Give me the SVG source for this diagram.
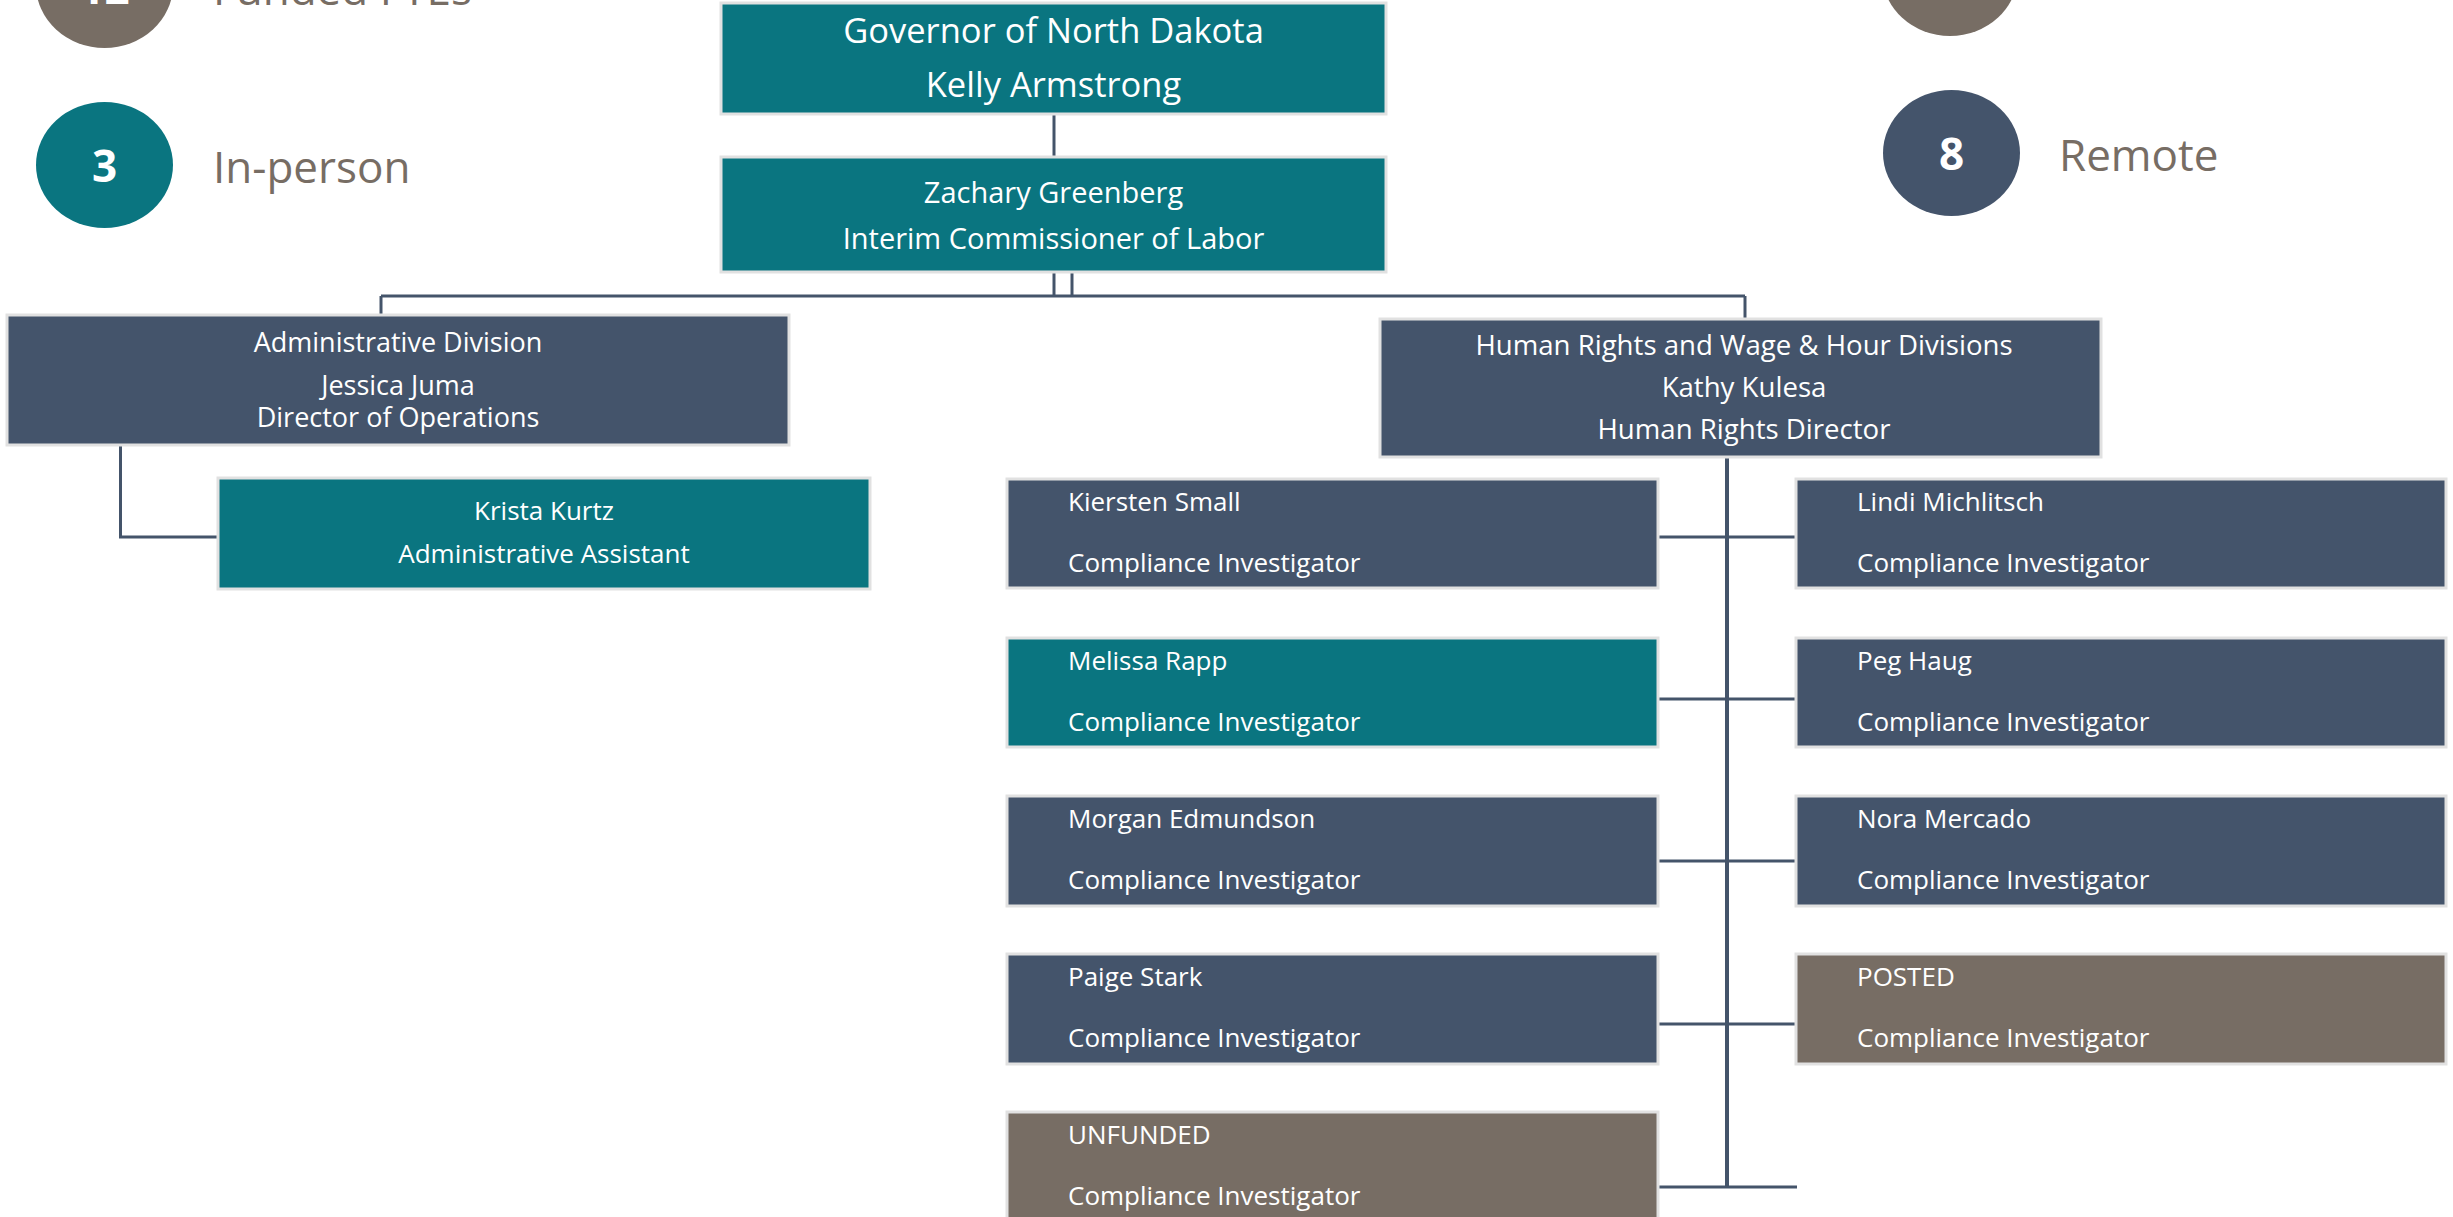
<svg xmlns="http://www.w3.org/2000/svg" width="2453" height="1217" viewBox="0 0 2453 1217">
<style>
text{font-family:"Open Sans","Noto Sans","Liberation Sans",sans-serif;fill:#ffffff}
.teal{fill:#0a7580;stroke:#e1e1e1;stroke-width:3}
.navy{fill:#44546b;stroke:#e1e1e1;stroke-width:3}
.brown{fill:#776d64;stroke:#e1e1e1;stroke-width:3}
.c{text-anchor:middle}
.f34{font-size:34.5px}.f29{font-size:29px}.f27{font-size:27px}.f275{font-size:27.6px}.f26{font-size:26px}
.leg{font-size:44px;fill:#776d64}
.num{font-size:44px;font-weight:bold;text-anchor:middle}
.conn line,.conn path{stroke:#44546a;stroke-width:3;fill:none}
</style>
<rect width="2453" height="1217" fill="#ffffff"/>

<g id="legend">
  <ellipse cx="104.5" cy="-15" rx="68.5" ry="63" fill="#776d64"/>
  <text class="num" x="104.5" y="4">12</text>
  <text class="leg" x="213" y="5">Funded FTEs</text>
  <ellipse cx="104.5" cy="165" rx="68.5" ry="63" fill="#0a7580"/>
  <text class="num" x="104.5" y="182">3</text>
  <text class="leg" x="213" y="183">In-person</text>
  <ellipse cx="1950" cy="-27" rx="68" ry="63" fill="#776d64"/>
  <ellipse cx="1951.5" cy="153" rx="68.5" ry="63" fill="#44546b"/>
  <text class="num" x="1951.5" y="170">8</text>
  <text class="leg" x="2059" y="171">Remote</text>
</g>

<g class="conn" id="connectors">
  <line x1="1054" y1="114" x2="1054" y2="157"/>
  <line x1="1054" y1="272" x2="1054" y2="296"/>
  <line x1="1072" y1="272" x2="1072" y2="296"/>
  <line x1="381" y1="296" x2="1745" y2="296"/>
  <line x1="381" y1="296" x2="381" y2="315"/>
  <line x1="1745" y1="296" x2="1745" y2="319"/>
  <path d="M120.5 445 V537 H218"/>
  <line x1="1727" y1="457" x2="1727" y2="1188" style="stroke-width:4"/>
  <line x1="1658" y1="537" x2="1796" y2="537"/>
  <line x1="1658" y1="699" x2="1796" y2="699"/>
  <line x1="1658" y1="861" x2="1796" y2="861"/>
  <line x1="1658" y1="1024" x2="1796" y2="1024"/>
  <line x1="1658" y1="1187" x2="1797" y2="1187"/>
</g>

<g id="governor">
  <rect class="teal" x="721" y="3" width="665" height="111"/>
  <text class="c f34" x="1053.5" y="43">Governor of North Dakota</text>
  <text class="c f34" x="1053.5" y="97">Kelly Armstrong</text>
</g>
<g id="commissioner">
  <rect class="teal" x="721" y="157" width="665" height="115"/>
  <text class="c f29" x="1053.5" y="203">Zachary Greenberg</text>
  <text class="c f29" x="1053.5" y="249">Interim Commissioner of Labor</text>
</g>
<g id="admin">
  <rect class="navy" x="7" y="315" width="782" height="130"/>
  <text class="c f27" x="398" y="352">Administrative Division</text>
  <text class="c f27" x="398" y="395">Jessica Juma</text>
  <text class="c f27" x="398" y="427">Director of Operations</text>
</g>
<g id="krista">
  <rect class="teal" x="218" y="478" width="652" height="111"/>
  <text class="c f26" x="544" y="520">Krista Kurtz</text>
  <text class="c f26" x="544" y="563">Administrative Assistant</text>
</g>
<g id="hr">
  <rect class="navy" x="1380" y="319" width="721" height="138"/>
  <text class="c f275" x="1744" y="355">Human Rights and Wage &amp; Hour Divisions</text>
  <text class="c f275" x="1744" y="397">Kathy Kulesa</text>
  <text class="c f275" x="1744" y="439">Human Rights Director</text>
</g>

<g id="kiersten">
  <rect class="navy" x="1007" y="479" width="651" height="109"/>
  <text class="f26" x="1068" y="511">Kiersten Small</text>
  <text class="f26" x="1068" y="572">Compliance Investigator</text>
</g>
<g id="lindi">
  <rect class="navy" x="1796" y="479" width="650" height="109"/>
  <text class="f26" x="1857" y="511">Lindi Michlitsch</text>
  <text class="f26" x="1857" y="572">Compliance Investigator</text>
</g>
<g id="melissa">
  <rect class="teal" x="1007" y="638" width="651" height="109"/>
  <text class="f26" x="1068" y="670">Melissa Rapp</text>
  <text class="f26" x="1068" y="731">Compliance Investigator</text>
</g>
<g id="peg">
  <rect class="navy" x="1796" y="638" width="650" height="109"/>
  <text class="f26" x="1857" y="670">Peg Haug</text>
  <text class="f26" x="1857" y="731">Compliance Investigator</text>
</g>
<g id="morgan">
  <rect class="navy" x="1007" y="796" width="651" height="110"/>
  <text class="f26" x="1068" y="828">Morgan Edmundson</text>
  <text class="f26" x="1068" y="889">Compliance Investigator</text>
</g>
<g id="nora">
  <rect class="navy" x="1796" y="796" width="650" height="110"/>
  <text class="f26" x="1857" y="828">Nora Mercado</text>
  <text class="f26" x="1857" y="889">Compliance Investigator</text>
</g>
<g id="paige">
  <rect class="navy" x="1007" y="954" width="651" height="110"/>
  <text class="f26" x="1068" y="986">Paige Stark</text>
  <text class="f26" x="1068" y="1047">Compliance Investigator</text>
</g>
<g id="posted">
  <rect class="brown" x="1796" y="954" width="650" height="110"/>
  <text class="f26" x="1857" y="986">POSTED</text>
  <text class="f26" x="1857" y="1047">Compliance Investigator</text>
</g>
<g id="unfunded">
  <rect class="brown" x="1007" y="1112" width="651" height="112"/>
  <text class="f26" x="1068" y="1144">UNFUNDED</text>
  <text class="f26" x="1068" y="1205">Compliance Investigator</text>
</g>
</svg>
